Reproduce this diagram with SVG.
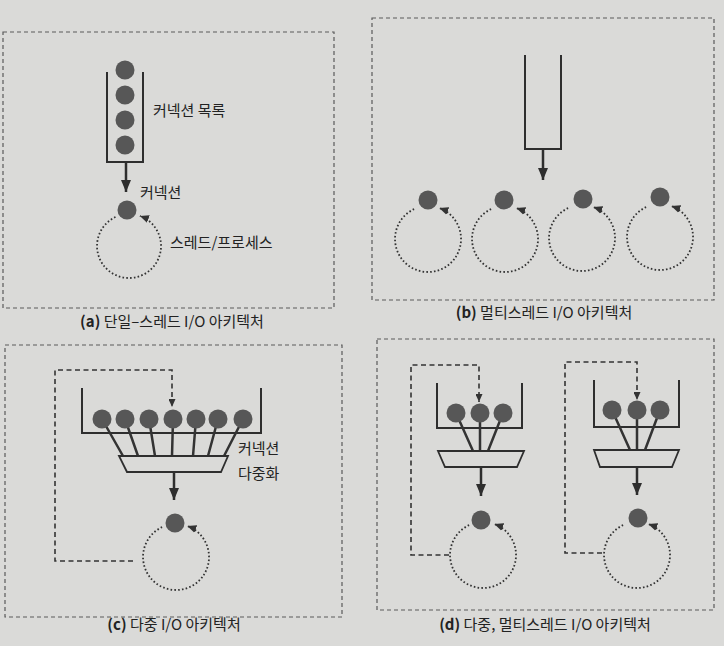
<svg xmlns="http://www.w3.org/2000/svg" width="724" height="646" viewBox="0 0 724 646">
<defs>
<style>
.frame{fill:none;stroke:#5a5a5a;stroke-width:1.2;stroke-dasharray:4 3}
.wall{fill:none;stroke:#2e2e2e;stroke-width:2}
.ball{fill:#575757}
.spoke{stroke:#333;stroke-width:2.5;fill:none}
.trap{fill:none;stroke:#2e2e2e;stroke-width:1.8}
.arrow{stroke:#2e2e2e;stroke-width:2.5;fill:none;marker-end:url(#ah)}
.loop{fill:none;stroke:#333;stroke-width:1.8;stroke-dasharray:1.6 2.2;marker-end:url(#ahs)}
.fb{fill:none;stroke:#333;stroke-width:1.6;stroke-dasharray:5 3.5;marker-end:url(#ahd)}
.lbl{font-family:"Noto Sans CJK KR","Noto Sans",sans-serif;font-size:15px;fill:#222}
.cap{font-family:"Noto Sans CJK KR","Noto Sans",sans-serif;font-size:15px;fill:#222;text-anchor:middle}
</style>
<marker id="ah" viewBox="0 0 12 10" refX="12" refY="5" markerWidth="12" markerHeight="10" markerUnits="userSpaceOnUse" orient="auto"><path d="M0,0 L12,5 L0,10 z" fill="#2e2e2e"/></marker>
<marker id="ahs" viewBox="0 0 9 8" refX="9" refY="4" markerWidth="9" markerHeight="8" markerUnits="userSpaceOnUse" orient="auto"><path d="M0,0 L9,4 L0,8 z" fill="#333"/></marker>
<marker id="ahd" viewBox="0 0 8 7" refX="8" refY="3.5" markerWidth="8" markerHeight="7" markerUnits="userSpaceOnUse" orient="auto"><path d="M0,0 L8,3.5 L0,7 z" fill="#333"/></marker>
</defs>
<rect x="0" y="0" width="724" height="646" fill="#dadad8"/>

<g id="frames">
<rect class="frame" x="3" y="32" width="331" height="276"/>
<rect class="frame" x="372" y="18" width="342" height="282"/>
<rect class="frame" x="5" y="345" width="337" height="272"/>
<rect class="frame" x="377" y="339" width="337" height="271"/>
</g>

<g id="connectors">
<path class="arrow" d="M126,162 V192"/>
<path class="arrow" d="M543,149 V180"/>
<path class="arrow" d="M174,472 V500"/>
<path class="arrow" d="M481,467 V496"/>
<path class="arrow" d="M637,467 V495"/>
<path class="loop" d="M115.5,217 A32,32 0 1 0 139.9,215.9"/>
<path class="loop" d="M414.1,209.1 A33,33 0 1 0 439.3,208"/>
<path class="loop" d="M491.1,209.1 A33,33 0 1 0 516.3,208"/>
<path class="loop" d="M568.1,208.1 A33,33 0 1 0 593.3,207"/>
<path class="loop" d="M646.1,207.1 A33,33 0 1 0 671.3,206"/>
<path class="loop" d="M162.1,527.1 A33,33 0 1 0 187.3,526"/>
<path class="loop" d="M469.1,525.1 A33,33 0 1 0 494.3,524"/>
<path class="loop" d="M623.1,525.1 A33,33 0 1 0 648.3,524"/>
<path class="fb" d="M133,561 H55 V370 H172 V407"/>
<path class="fb" d="M449,555 H411 V365 H479 V402"/>
<path class="fb" d="M602,553 H565 V362 H637 V400"/>
</g>

<g id="a-queue">
<path class="wall" d="M107,72 V162 H143 V72"/>
<circle class="ball" cx="125" cy="70" r="9.5"/>
<circle class="ball" cx="125" cy="95" r="9.5"/>
<circle class="ball" cx="125" cy="120" r="9.5"/>
<circle class="ball" cx="125" cy="145" r="9.5"/>
</g>
<g id="a-conn"><circle class="ball" cx="127" cy="210" r="9.5"/></g>

<g id="b-queue"><path class="wall" d="M525,55 V149 H561 V55"/></g>
<g id="b-conn1"><circle class="ball" cx="428" cy="200" r="9.5"/></g>
<g id="b-conn2"><circle class="ball" cx="504" cy="200" r="9.5"/></g>
<g id="b-conn3"><circle class="ball" cx="583" cy="199" r="9.5"/></g>
<g id="b-conn4"><circle class="ball" cx="660" cy="197" r="9.5"/></g>

<g id="c-mux">
<path class="wall" d="M82,388 V433 H261 V388"/>
<path class="spoke" d="M102,419 L123,456 M125,419 L138,456 M149,419 L155,456 M173,419 L172,456 M196,419 L193,456 M218,419 L208,456 M243,419 L224,456"/>
<polygon class="trap" points="119,456 228,456 221,472 127,472"/>
<circle class="ball" cx="102" cy="419" r="9.5"/>
<circle class="ball" cx="125" cy="419" r="9.5"/>
<circle class="ball" cx="149" cy="419" r="9.5"/>
<circle class="ball" cx="173" cy="419" r="9.5"/>
<circle class="ball" cx="196" cy="419" r="9.5"/>
<circle class="ball" cx="218" cy="419" r="9.5"/>
<circle class="ball" cx="243" cy="419" r="9.5"/>
</g>
<g id="c-conn"><circle class="ball" cx="175" cy="523" r="9.5"/></g>

<g id="d-mux1">
<path class="wall" d="M437,383 V428 H522 V383"/>
<path class="spoke" d="M456,413 L473,451 M480,413 L480,451 M503,413 L488,451"/>
<polygon class="trap" points="438,451 524,451 517,467 445,467"/>
<circle class="ball" cx="456" cy="413" r="9.5"/>
<circle class="ball" cx="480" cy="413" r="9.5"/>
<circle class="ball" cx="503" cy="413" r="9.5"/>
</g>
<g id="d-conn1"><circle class="ball" cx="481" cy="520" r="9.5"/></g>

<g id="d-mux2">
<path class="wall" d="M594,380 V427 H679 V380"/>
<path class="spoke" d="M612,410 L630,450 M637,410 L637,450 M660,410 L645,450"/>
<polygon class="trap" points="594,450 679,450 672,467 600,467"/>
<circle class="ball" cx="612" cy="410" r="9.5"/>
<circle class="ball" cx="637" cy="410" r="9.5"/>
<circle class="ball" cx="660" cy="410" r="9.5"/>
</g>
<g id="d-conn2"><circle class="ball" cx="638" cy="518" r="9.5"/></g>

<g id="labels">
<text class="lbl" x="153" y="116">커넥션 목록</text>
<text class="lbl" x="140" y="198">커넥션</text>
<text class="lbl" x="170" y="248">스레드/프로세스</text>
<text class="lbl" x="238" y="454">커넥션</text>
<text class="lbl" x="238" y="479">다중화</text>
<text class="cap" x="172" y="327"><tspan font-weight="bold">(a)</tspan> 단일–스레드 I/O 아키텍처</text>
<text class="cap" x="544" y="318"><tspan font-weight="bold">(b)</tspan> 멀티스레드 I/O 아키텍처</text>
<text class="cap" x="174" y="630"><tspan font-weight="bold">(c)</tspan> 다중 I/O 아키텍처</text>
<text class="cap" x="545" y="630"><tspan font-weight="bold">(d)</tspan> 다중, 멀티스레드 I/O 아키텍처</text>
</g>
</svg>
